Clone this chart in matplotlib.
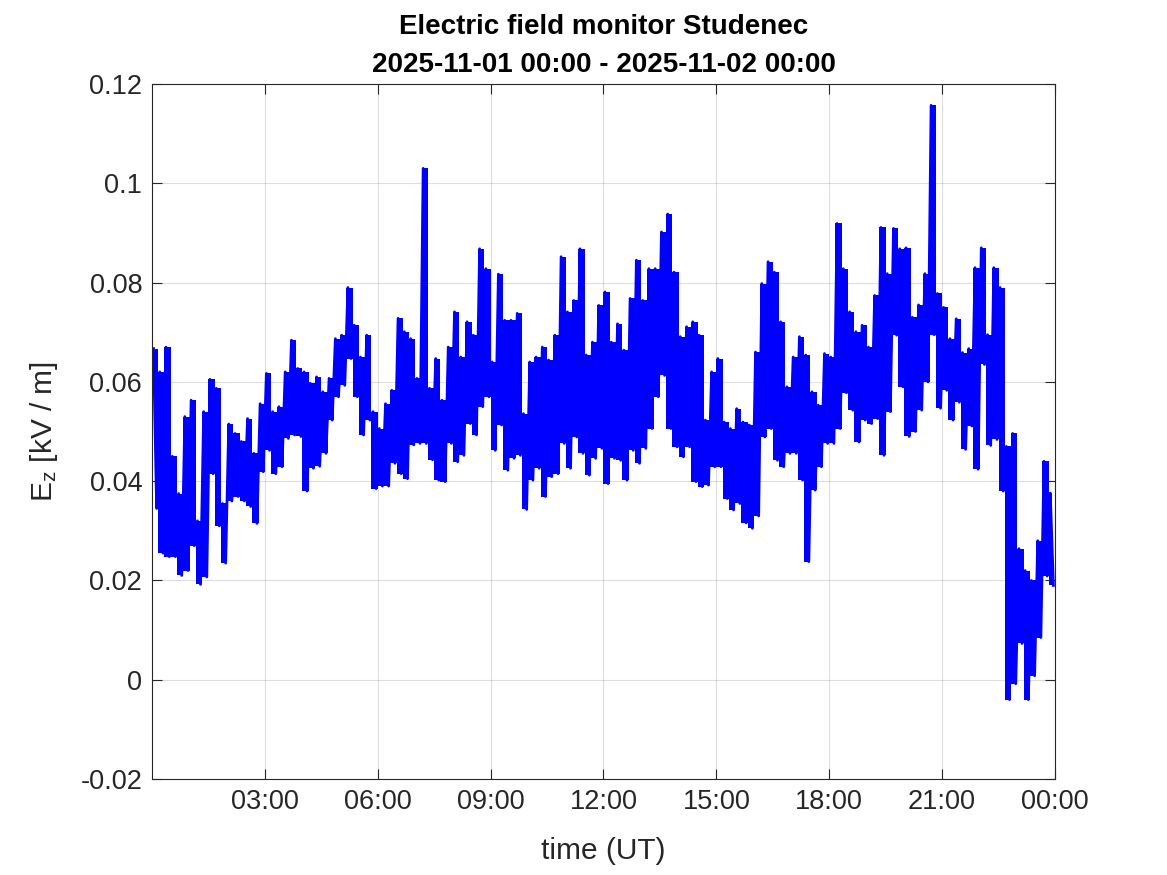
import numpy as np
import matplotlib
matplotlib.use("Agg")
import matplotlib.pyplot as plt

# 10-minute blocks over the day: upper and lower excursion of Ez [kV/m]
ez_high = [
    0.0667, 0.062, 0.067, 0.045, 0.0375, 0.053, 0.0563, 0.032, 0.054, 0.0605,
    0.0587, 0.0355, 0.0515, 0.0496, 0.048, 0.0526, 0.0456, 0.0556, 0.0617, 0.054,
    0.055, 0.062, 0.0684, 0.0627, 0.062, 0.0597, 0.061, 0.058, 0.0607, 0.0687,
    0.0694, 0.079, 0.0714, 0.065, 0.0694, 0.054, 0.0506, 0.0556, 0.0583, 0.0728,
    0.0701, 0.0687, 0.0607, 0.103, 0.0587, 0.0647, 0.0563, 0.067, 0.0741, 0.065,
    0.0721, 0.0694, 0.0868, 0.0828, 0.064, 0.0817, 0.0724, 0.0724, 0.0738, 0.0536,
    0.064, 0.065, 0.067, 0.0644, 0.0694, 0.0852, 0.0741, 0.0764, 0.0868, 0.0654,
    0.068, 0.0754, 0.0781, 0.068, 0.0717, 0.0664, 0.0768, 0.0845, 0.0764, 0.0828,
    0.0828, 0.0902, 0.0938, 0.0821, 0.0691, 0.0711, 0.0721, 0.0694, 0.0523, 0.062,
    0.0647, 0.0519, 0.0506, 0.0546, 0.0519, 0.0513, 0.066, 0.0798, 0.0842, 0.0821,
    0.0721, 0.059, 0.065, 0.0691, 0.0654, 0.058, 0.0553, 0.0657, 0.065, 0.0919,
    0.0828, 0.0741, 0.0701, 0.0714, 0.067, 0.0774, 0.0911, 0.0818, 0.0909, 0.0868,
    0.087, 0.073, 0.0755, 0.0818, 0.1157, 0.0778, 0.075, 0.0687, 0.0727, 0.0659,
    0.0667, 0.083, 0.087, 0.0695, 0.083, 0.079, 0.047, 0.0496, 0.0264, 0.022,
    0.020, 0.028, 0.044, 0.0376,
]
ez_low = [
    0.0345, 0.0255, 0.0248, 0.0248, 0.021, 0.022, 0.027, 0.0192, 0.0207, 0.0415,
    0.031, 0.0235, 0.036, 0.0369, 0.036, 0.0349, 0.0315, 0.0419, 0.0462, 0.0415,
    0.0429, 0.0486, 0.0493, 0.049, 0.038, 0.0426, 0.043, 0.0456, 0.0523, 0.057,
    0.0593, 0.0647, 0.057, 0.0493, 0.0523, 0.0385, 0.039, 0.039, 0.0436, 0.0415,
    0.0405, 0.0473, 0.0476, 0.0476, 0.0443, 0.0402, 0.0399, 0.0476, 0.0439, 0.0452,
    0.0516, 0.0493, 0.055, 0.057, 0.0462, 0.0513, 0.0422, 0.0446, 0.0452, 0.0343,
    0.0402, 0.0426, 0.0369, 0.0409, 0.0415, 0.0476, 0.0426, 0.0489, 0.0456, 0.0412,
    0.0446, 0.0466, 0.0395, 0.0446, 0.0442, 0.0402, 0.0462, 0.0436, 0.0466, 0.0506,
    0.057, 0.0613, 0.0506, 0.0469, 0.0449, 0.0469, 0.0399, 0.0389, 0.0392, 0.0429,
    0.0429, 0.0365, 0.0342, 0.0355, 0.0316, 0.0305, 0.033, 0.0489, 0.0506, 0.0442,
    0.0429, 0.0456, 0.0456, 0.0402, 0.0238, 0.0382, 0.0429, 0.0476, 0.0476, 0.0506,
    0.0578, 0.0543, 0.0479, 0.0523, 0.0516, 0.0526, 0.0452, 0.054, 0.0694, 0.059,
    0.049, 0.050, 0.0543, 0.060, 0.0695, 0.0547, 0.0583, 0.0523, 0.0559, 0.0464,
    0.0511, 0.0424, 0.0635, 0.0472, 0.0484, 0.038, -0.004, -0.0008, 0.0073, -0.004,
    0.0008, 0.0085, 0.0209, 0.019,
]
tick_hours = [3, 6, 9, 12, 15, 18, 21, 24]
tick_labels = ["03:00", "06:00", "09:00", "12:00", "15:00", "18:00", "21:00", "00:00"]

# samples every 5 minutes, alternating high / low within each block
minutes = np.arange(0, 1440, 5) + 2.5
ez = np.empty(len(ez_high) * 2)
ez[0::2] = ez_high
ez[1::2] = ez_low
hours = minutes / 60.0
block_hours = (np.arange(0, 1440, 10) + 5) / 60.0

plt.rcParams['font.family'] = ['Liberation Sans', 'DejaVu Sans']
plt.rcParams['mathtext.default'] = 'regular'

fig = plt.figure(figsize=(11.67, 8.75), dpi=100)
ax = fig.add_axes([0.1302, 0.1097, 0.7738, 0.7943])

blue = '#0000ff'
# dense 1 s record shows up as a solid band between the block extremes
ax.fill_between(block_hours, ez_low, ez_high, step='mid', color=blue, linewidth=0)
ax.plot(hours, ez, color=blue, linewidth=2.0)

ax.set_xlim(0, 24)
ax.set_ylim(-0.02, 0.12)
ax.set_xticks(tick_hours)
ax.set_xticklabels(tick_labels)
ax.set_yticks([-0.02, 0, 0.02, 0.04, 0.06, 0.08, 0.1, 0.12])
ax.set_yticklabels(["-0.02", "0", "0.02", "0.04", "0.06", "0.08", "0.1", "0.12"])

dark = (0.15, 0.15, 0.15)
ax.grid(True, color=dark, alpha=0.15, linewidth=0.8)
ax.set_axisbelow(True)
ax.tick_params(direction='in', length=7, width=0.8, colors=dark,
               labelsize=19.5, top=True, right=True, pad=7)
for s in ax.spines.values():
    s.set_color(dark)
    s.set_linewidth(0.8)

ax.set_xlabel("time (UT)", fontsize=21.5, color=dark, labelpad=16)
ax.set_ylabel("$E_z$ [kV / m]", fontsize=21.5, color=dark, labelpad=15)
ax.set_title("Electric field monitor Studenec\n2025-11-01 00:00 - 2025-11-02 00:00",
             fontsize=20, fontweight='bold', color='black', pad=9, linespacing=1.6)

fig.savefig("out.png", dpi=100)
